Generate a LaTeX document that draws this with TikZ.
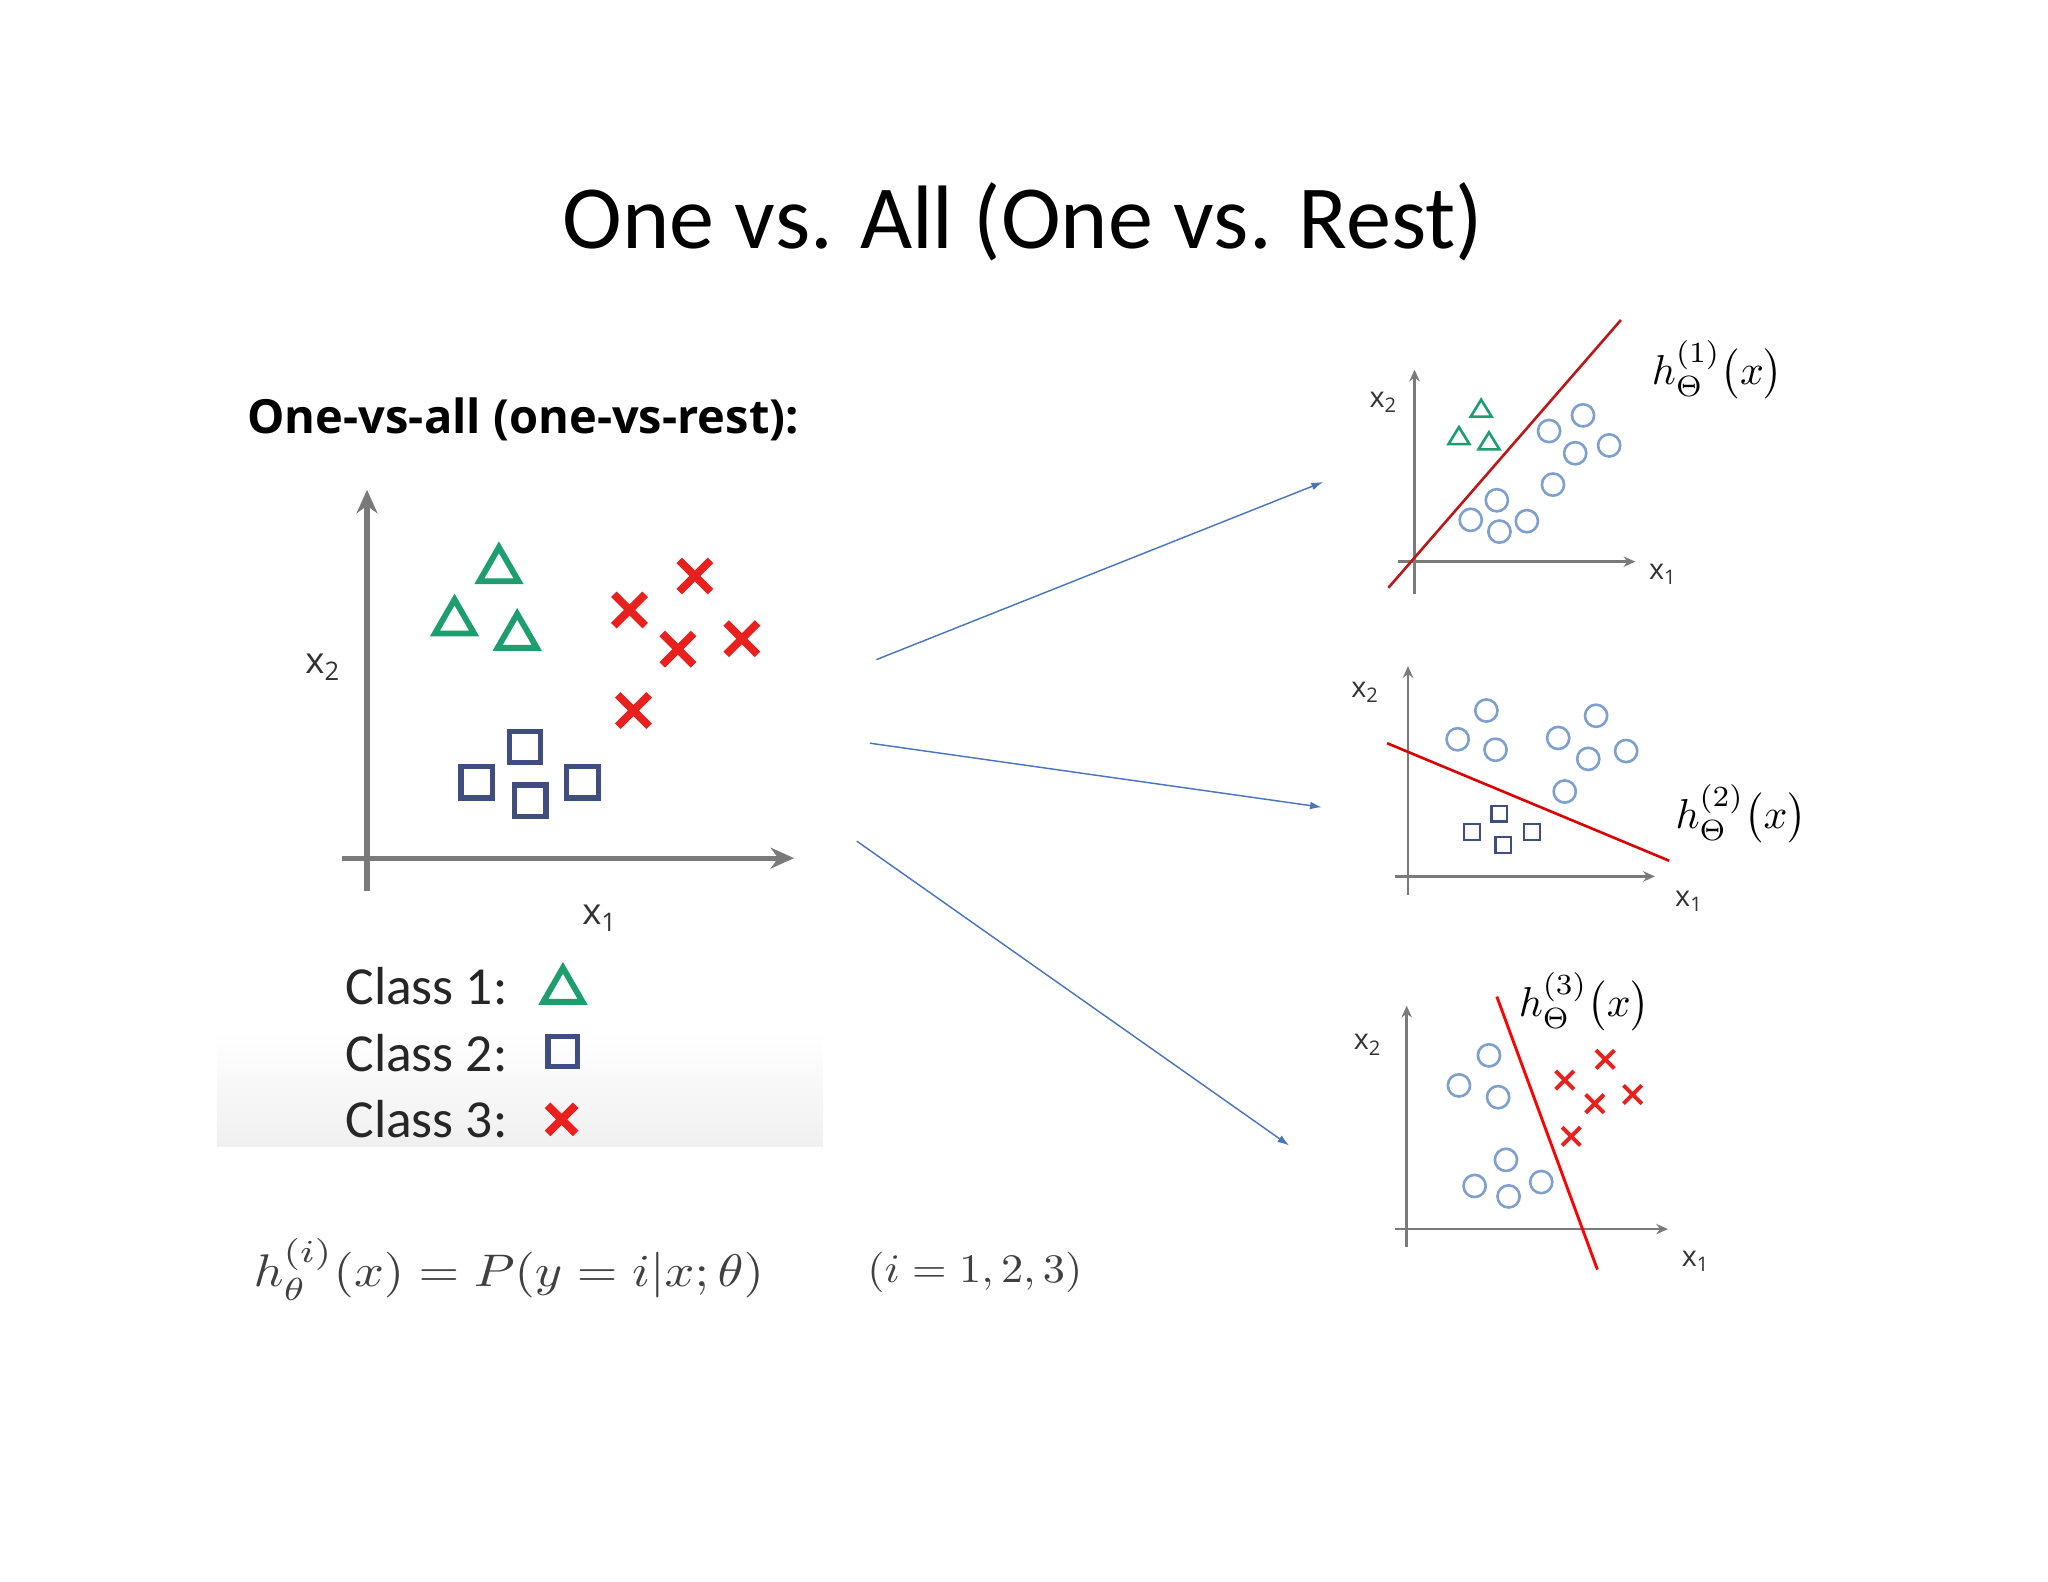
\documentclass[tikz,border=0pt]{standalone}
\usepackage{fontspec}
\setmainfont{Carlito}
\setsansfont{Open Sans}
\usetikzlibrary{arrows.meta}
\definecolor{tri}{HTML}{1E9E6E}
\definecolor{sq}{HTML}{3F4E7E}
\definecolor{xr}{HTML}{E8201E}
\definecolor{circ}{HTML}{7F9FCC}
\definecolor{arr}{HTML}{4A74BC}
\definecolor{ax}{HTML}{7A7A7A}
\begin{document}
\begin{tikzpicture}[x=1pt,y=-1pt,
  axis/.style={draw=ax,line width=#1,-{Stealth[length=4.5*#1,width=4*#1]}},
  tri/.pic={\draw[tri,line width=4.5] (0,-14)--(15,12)--(-15,12)--cycle;},
  stri/.pic={\draw[tri,line width=2] (0,-7)--(8,6)--(-8,6)--cycle;},
  sqr/.pic={\draw[sq,line width=4] (-12,-12) rectangle (12,12);},
  ssqr/.pic={\draw[sq,line width=1.8] (-6,-6) rectangle (6,6);},
  crs/.pic={\draw[xr,line width=6] (-12,-12)--(12,12) (-12,12)--(12,-12);},
  scrs/.pic={\draw[xr,line width=3] (-7,-7)--(7,7) (-7,7)--(7,-7);},
  circ/.pic={\draw[circ,line width=2] (0,0) circle[radius=8.5];},
  conn/.style={draw=arr,line width=1.1,-{Latex[length=9,width=6]}},
  axlab/.style={font=\sffamily\fontsize{22}{24}\selectfont,text=black!80},
  hlab/.style={scale=3.2}]
\useasboundingbox[fill=white] (0,0) rectangle (1568,1211);
\shade[top color=white,bottom color=black!6] (166,790) rectangle (630,878);
\node[font=\fontsize{69}{74}\selectfont] (title) at (783,170) {One vs. All (One vs. Rest)};
\node[anchor=west,font=\sffamily\bfseries\fontsize{36}{38}\selectfont] (head) at (186,321) {One-vs-all (one-vs-rest):};
% left plot
\draw[axis=4] (281,682) -- (281,375);
\draw[axis=4] (262,657) -- (608,657);
\node[axlab,font=\sffamily\fontsize{28}{30}\selectfont] (lx2) at (247,511) {x\textsubscript{2}};
\node[axlab,font=\sffamily\fontsize{28}{30}\selectfont] (lx1) at (459,703) {x\textsubscript{1}};
\foreach \p in {(382,433),(348,473),(396,484)} \pic at \p {tri};
\foreach \p in {(482,467),(532,441),(519,497),(568,489),(485,544)} \pic at \p {crs};
\foreach \p in {(402,572),(365,599),(406,613),(446,599)} \pic at \p {sqr};
\node[anchor=west,font=\fontsize{41}{44}\selectfont,text=black!85] (c1) at (261,755) {Class 1:};
\node[anchor=west,font=\fontsize{41}{44}\selectfont,text=black!85] (c2) at (261,806) {Class 2:};
\node[anchor=west,font=\fontsize{41}{44}\selectfont,text=black!85] (c3) at (261,857) {Class 3:};
\pic at (431,755) {tri};
\pic[scale=0.95] at (431,805) {sqr};
\pic[scale=0.9] at (430,857) {crs};
\node[anchor=west,text=black!75,xscale=4.0,yscale=3.5] (form) at (180,972) {$h_\theta^{(i)}(x)=P(y=i|x;\theta)$};
\node[anchor=west,text=black!75,xscale=3.4,yscale=3.1] (rng) at (652,974) {$(i=1,2,3)$};
% arrows
\coordinate (a1s) at (671,505); \coordinate (a1e) at (1013,369);
\coordinate (a2s) at (666,569); \coordinate (a2e) at (1012,618);
\coordinate (a3s) at (656,644); \coordinate (a3e) at (987,877);
\draw[conn] (a1s) -- (a1e);
\draw[conn] (a2s) -- (a2e);
\draw[conn] (a3s) -- (a3e);
% plot 1
\draw[axis=2] (1083,455) -- (1083,283);
\draw[axis=2] (1070,430) -- (1252,430);
\node[axlab] (p1y) at (1059,308) {x\textsubscript{2}};
\node[axlab] (p1x) at (1273,440) {x\textsubscript{1}};
\foreach \p in {(1134,313),(1117,334),(1140,338)} \pic at \p {stri};
\foreach \p in {(1186,330),(1212,318),(1206,347),(1232,341),(1189,371),(1146,383),(1126,398),(1148,407),(1169,399)} \pic at \p {circ};
\draw[red!70!black!90,line width=2] (1063,450) -- (1241,245);
\node[hlab] (h1) at (1315,283) {$h_{\Theta}^{(1)}\bigl(x\bigr)$};
% plot 2
\draw[axis=2] (1078,685) -- (1078,510);
\draw[axis=2] (1068,671) -- (1267,671);
\node[axlab] (p2y) at (1045,530) {x\textsubscript{2}};
\node[axlab] (p2x) at (1293,690) {x\textsubscript{1}};
\foreach \p in {(1138,544),(1116,566),(1145,574),(1193,565),(1222,548),(1216,581),(1245,575),(1198,606)} \pic at \p {circ};
\foreach \p in {(1148,623),(1127,637),(1151,647),(1173,637)} \pic at \p {ssqr};
\draw[red!85!black,line width=2] (1062,569) -- (1278,659);
\node[hlab] (h2) at (1333,623) {$h_{\Theta}^{(2)}\bigl(x\bigr)$};
% plot 3
\draw[axis=2] (1077,955) -- (1077,770);
\draw[axis=2] (1068,941) -- (1277,941);
\node[axlab] (p3y) at (1047,800) {x\textsubscript{2}};
\node[axlab] (p3x) at (1298,966) {x\textsubscript{1}};
\foreach \p in {(1140,808),(1117,831),(1147,840),(1153,888),(1129,908),(1155,916),(1180,905)} \pic at \p {circ};
\foreach \p in {(1229,811),(1198,827),(1221,845),(1250,838),(1203,870)} \pic at \p {scrs};
\draw[red,line width=2.2] (1146,763) -- (1223,972);
\node[hlab] (h3) at (1213,767) {$h_{\Theta}^{(3)}\bigl(x\bigr)$};
\end{tikzpicture}
\end{document}
